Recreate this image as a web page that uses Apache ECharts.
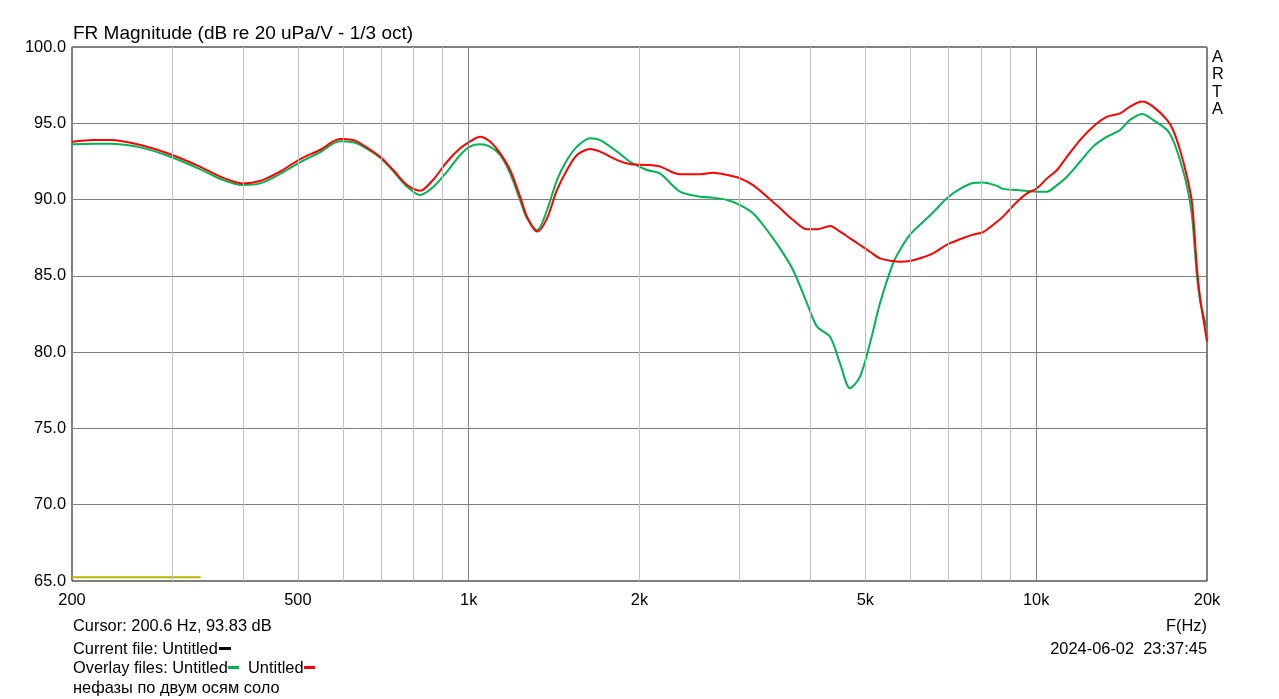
<!DOCTYPE html>
<html>
<head>
<meta charset="utf-8">
<title>FR Magnitude</title>
<script src="https://cdn.jsdelivr.net/npm/echarts@6/dist/echarts.min.js"></script>
<style>
  html, body { margin: 0; padding: 0; background: #fff; }
  #chart { width: 1279px; height: 699px; }
</style>
</head>
<body>
<div id="chart"></div>
<script>
// frequencies (Hz) shared by both overlay curves
var freqHz = [200, 218, 233, 264, 298, 336, 365, 400, 429, 465, 504, 547, 593, 626, 644, 698, 736, 779, 821, 865,
  916, 966, 1005, 1047, 1090, 1136, 1183, 1232, 1267, 1320, 1374, 1431, 1490, 1552, 1636, 1704, 1826, 1925, 2061, 2174,
  2358, 2558, 2696, 2854, 3008, 3170, 3355, 3537, 3729, 3947, 4110, 4333, 4512, 4699, 4893, 5095, 5306, 5594, 5754, 5993,
  6241, 6580, 6966, 7342, 7740, 8061, 8531, 8740, 9255, 9636, 10034, 10450, 10883, 11333, 11947, 12597, 13331, 14054, 14636, 15368,
  16070, 17004, 17424, 17926, 18445, 18820, 19200, 19440, 19680, 20000];

// overlay "Untitled" (red), dB
var redDb = [93.79, 93.90, 93.90, 93.58, 92.97, 92.16, 91.50, 91.06, 91.22, 91.83, 92.64, 93.25, 93.97, 93.90, 93.69, 92.81, 91.94, 90.95, 90.58, 91.28,
  92.48, 93.36, 93.80, 94.12, 93.80, 93.03, 91.94, 90.19, 88.88, 87.90, 88.77, 90.63, 91.94, 92.92, 93.31, 93.14, 92.59, 92.33, 92.27, 92.16,
  91.66, 91.66, 91.76, 91.61, 91.39, 90.95, 90.19, 89.43, 88.66, 88.05, 88.05, 88.27, 87.90, 87.46, 87.02, 86.58, 86.15, 85.97, 85.93, 85.97,
  86.15, 86.48, 87.05, 87.40, 87.70, 87.87, 88.55, 88.88, 89.86, 90.41, 90.74, 91.39, 91.94, 92.81, 93.90, 94.78, 95.43, 95.65, 96.09, 96.42,
  96.09, 95.22, 94.56, 93.25, 91.50, 89.80, 85.50, 83.60, 82.30, 80.70];

// overlay "Untitled" (green), dB
var greenDb = [93.62, 93.66, 93.66, 93.42, 92.81, 92.00, 91.35, 90.95, 91.06, 91.68, 92.44, 93.10, 93.82, 93.75, 93.58, 92.75, 91.87, 90.84, 90.30, 90.80,
  91.83, 92.92, 93.47, 93.62, 93.47, 92.92, 91.72, 89.97, 88.77, 88.00, 89.30, 91.28, 92.59, 93.47, 94.02, 93.90, 93.14, 92.48, 91.94, 91.70,
  90.52, 90.19, 90.12, 89.97, 89.64, 89.10, 88.00, 86.80, 85.38, 83.20, 81.67, 81.01, 79.27, 77.63, 78.40, 80.58, 83.20, 85.82, 86.70, 87.70,
  88.35, 89.15, 90.10, 90.70, 91.08, 91.12, 90.90, 90.70, 90.63, 90.56, 90.52, 90.52, 90.95, 91.50, 92.48, 93.47, 94.12, 94.56, 95.22, 95.61,
  95.22, 94.56, 93.90, 92.59, 90.84, 88.90, 85.00, 83.40, 82.50, 81.60];

// current file trace (yellow, bottom left)
var currentHz = [200, 337];
var currentDb = [65.24, 65.24];

// x grid lines and labels
var minorGridHz = [300, 400, 500, 600, 700, 800, 900, 2000, 3000, 4000, 5000, 6000, 7000, 8000, 9000];
var majorGridHz = [1000, 10000];
var xTickHz = [200, 500, 1000, 2000, 5000, 10000, 20000];
var xTickText = ['200', '500', '1k', '2k', '5k', '10k', '20k'];

var FONT = '"Liberation Sans", Arial, sans-serif';

function pairs(xs, ys) {
  return xs.map(function (x, i) { return [x, ys[i]]; });
}

var gridMarks = [];
minorGridHz.forEach(function (f) {
  gridMarks.push({ xAxis: f, lineStyle: { color: '#c0c0c0', width: 1, type: 'solid' } });
});
majorGridHz.forEach(function (f) {
  gridMarks.push({ xAxis: f, lineStyle: { color: '#808080', width: 1, type: 'solid' } });
});
var labelMarks = xTickHz.map(function (f, i) {
  return {
    xAxis: f,
    lineStyle: { color: 'rgba(0,0,0,0)', width: 1 },
    label: { show: true, position: 'start', distance: 11, formatter: xTickText[i], color: '#000', fontSize: 16.4, fontFamily: FONT }
  };
});

var chart = echarts.init(document.getElementById('chart'));

var option = {
  animation: false,
  backgroundColor: '#fff',
  grid: {
    left: 72, right: 72, top: 47, bottom: 118,
    show: true, borderColor: '#000', borderWidth: 1, backgroundColor: 'transparent'
  },
  xAxis: {
    type: 'log',
    logBase: 10,
    min: 200,
    max: 20000,
    axisLine: { show: false },
    axisTick: { show: false },
    axisLabel: { show: false },
    splitLine: { show: false }
  },
  yAxis: {
    type: 'value',
    min: 65,
    max: 100,
    interval: 5,
    axisLine: { show: false },
    axisTick: { show: false },
    axisLabel: {
      margin: 6,
      color: '#000',
      fontSize: 16.4,
      fontFamily: FONT,
      padding: [5, 0, 0, 0],
      formatter: function (v) { return v.toFixed(1); }
    },
    splitLine: { lineStyle: { color: '#808080', width: 1 } }
  },
  series: [
    {
      name: 'current',
      type: 'line',
      data: pairs(currentHz, currentDb),
      showSymbol: false,
      silent: true,
      lineStyle: { color: '#b8b800', width: 2 },
      z: 1,
      markLine: {
        silent: true,
        symbol: 'none',
        animation: false,
        label: { show: false },
        data: gridMarks.concat(labelMarks)
      }
    },
    {
      name: 'Untitled green',
      type: 'line',
      data: pairs(freqHz, greenDb),
      showSymbol: false,
      silent: true,
      smooth: 0.3,
      lineStyle: { color: '#00b454', width: 2 },
      z: 3
    },
    {
      name: 'Untitled red',
      type: 'line',
      data: pairs(freqHz, redDb),
      showSymbol: false,
      silent: true,
      smooth: 0.3,
      lineStyle: { color: '#ff0000', width: 2 },
      z: 4
    }
  ],
  graphic: [
    { type: 'text', left: 73, top: 24, style: { text: 'FR Magnitude (dB re 20 uPa/V - 1/3 oct)', font: '19px ' + FONT, fill: '#000' } },
    { type: 'text', left: 1212, top: 49, style: { text: 'A\nR\nT\nA', font: '16.4px ' + FONT, lineHeight: 17.3, fill: '#000' } },
    { type: 'text', left: 73, top: 618, style: { text: 'Cursor: 200.6 Hz, 93.83 dB', font: '16.4px ' + FONT, fill: '#000' } },
    { type: 'text', left: 73, top: 641, style: { text: 'Current file: Untitled', font: '16.4px ' + FONT, fill: '#000' } },
    { type: 'rect', shape: { x: 219, y: 647, width: 12, height: 3 }, style: { fill: '#000' } },
    { type: 'text', left: 73, top: 660, style: { text: 'Overlay files: Untitled', font: '16.4px ' + FONT, fill: '#000' } },
    { type: 'rect', shape: { x: 228, y: 666, width: 11, height: 3 }, style: { fill: '#00b454' } },
    { type: 'text', left: 248, top: 660, style: { text: 'Untitled', font: '16.4px ' + FONT, fill: '#000' } },
    { type: 'rect', shape: { x: 304, y: 666, width: 11, height: 3 }, style: { fill: '#ff0000' } },
    { type: 'text', left: 73, top: 680, style: { text: 'нефазы по двум осям соло', font: '16.4px ' + FONT, fill: '#000' } },
    { type: 'text', right: 72, top: 618, style: { text: 'F(Hz)', font: '16.4px ' + FONT, fill: '#000' } },
    { type: 'text', right: 72, top: 641, style: { text: '2024-06-02  23:37:45', font: '16.4px ' + FONT, fill: '#000' } }
  ]
};

chart.setOption(option);
</script>
</body>
</html>
